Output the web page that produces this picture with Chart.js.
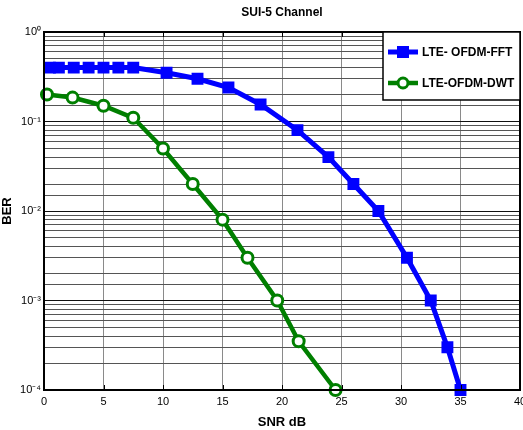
<!DOCTYPE html>
<html>
<head>
<meta charset="utf-8">
<script src="https://cdn.jsdelivr.net/npm/chart.js@4/dist/chart.umd.min.js"></script>
<style>
  html, body { margin: 0; padding: 0; background: #fff; }
  canvas { display: block; }
</style>
</head>
<body>
<canvas id="ber-chart" width="523" height="430"></canvas>
<script>
// --- Data ---
const fftSnr = [0.5, 1.25, 2.5, 3.75, 5, 6.25, 7.5, 10.3, 12.9, 15.5, 18.2, 21.3, 23.9, 26, 28.1, 30.5, 32.5, 33.9, 35];
const fftBer = [0.4, 0.4, 0.4, 0.4, 0.4, 0.4, 0.4, 0.35, 0.3, 0.24, 0.155, 0.08, 0.04, 0.02, 0.01, 0.003, 0.001, 0.0003, 0.0001];
const dwtSnr = [0.25, 2.4, 5, 7.5, 10, 12.5, 15, 17.1, 19.6, 21.4, 24.5];
const dwtBer = [0.2, 0.185, 0.15, 0.11, 0.05, 0.02, 0.008, 0.003, 0.001, 0.00035, 0.0001];
const seriesNames = ['LTE- OFDM-FFT', 'LTE-OFDM-DWT'];
const xTicks = [0, 5, 10, 15, 20, 25, 30, 35, 40];
const supers = { '-': '\u207B', '0': '\u2070', '1': '\u00B9', '2': '\u00B2', '3': '\u00B3', '4': '\u2074' };

const FONT = '"Liberation Sans", Arial, sans-serif';

function toPoints(xs, ys) {
    return xs.map((x, i) => ({ x: x, y: ys[i] }));
}

function isDecade(v) {
    const e = Math.log10(v);
    return Math.abs(e - Math.round(e)) < 1e-6;
}

// box round the plot, inner tick marks, title and the legend
const framePlugin = {
    id: 'frame',
    afterDraw(chart) {
        const ctx = chart.ctx;
        const a = chart.chartArea;
        const xs = chart.scales.x;
        ctx.save();

        // inner tick marks at top and bottom
        ctx.strokeStyle = '#000';
        ctx.lineWidth = 1;
        xTicks.forEach(v => {
            const px = Math.round(xs.getPixelForValue(v)) + 0.5;
            ctx.beginPath();
            ctx.moveTo(px, a.bottom); ctx.lineTo(px, a.bottom - 5);
            ctx.moveTo(px, a.top); ctx.lineTo(px, a.top + 5);
            ctx.stroke();
        });

        ctx.lineWidth = 2;
        ctx.strokeRect(a.left, a.top, a.right - a.left, a.bottom - a.top);

        // title centred over the plot
        ctx.fillStyle = '#000';
        ctx.font = 'bold 12px ' + FONT;
        ctx.textAlign = 'center';
        ctx.textBaseline = 'middle';
        ctx.fillText('SUI-5 Channel', (a.left + a.right) / 2, 13);

        // legend box in the top-right corner
        const bx = a.right - 137, by = a.top, bw = 137, bh = 68;
        ctx.fillStyle = '#fff';
        ctx.fillRect(bx, by, bw, bh);
        ctx.lineWidth = 1.5;
        ctx.strokeStyle = '#000';
        ctx.strokeRect(bx, by, bw, bh);

        chart.data.datasets.forEach((ds, i) => {
            const ry = by + 20 + i * 31;
            const x0 = bx + 5, x1 = bx + 35, cx = (x0 + x1) / 2;
            ctx.strokeStyle = ds.borderColor;
            ctx.lineWidth = ds.borderWidth;
            ctx.beginPath();
            ctx.moveTo(x0, ry); ctx.lineTo(x1, ry);
            ctx.stroke();
            if (ds.pointStyle === 'rect') {
                ctx.fillStyle = ds.borderColor;
                ctx.fillRect(cx - 6, ry - 6, 12, 12);
            } else {
                ctx.lineWidth = 3;
                ctx.fillStyle = '#fff';
                ctx.beginPath();
                ctx.arc(cx, ry, 5, 0, Math.PI * 2);
                ctx.fill();
                ctx.stroke();
            }
            ctx.fillStyle = '#000';
            ctx.font = 'bold 12px ' + FONT;
            ctx.textAlign = 'left';
            ctx.fillText(ds.label, x1 + 4, ry + 1);
        });
        ctx.restore();
    }
};

const chart = new Chart(document.getElementById('ber-chart'), {
    type: 'line',
    data: {
        datasets: [
            {
                label: seriesNames[0],
                data: toPoints(fftSnr, fftBer),
                borderColor: '#0000FF',
                backgroundColor: '#0000FF',
                borderWidth: 5,
                pointStyle: 'rect',
                pointRadius: 7,
                pointBorderWidth: 2,
                pointBackgroundColor: '#0000FF',
                pointBorderColor: '#0000FF',
                tension: 0,
                clip: false
            },
            {
                label: seriesNames[1],
                data: toPoints(dwtSnr, dwtBer),
                borderColor: '#007F00',
                backgroundColor: '#007F00',
                borderWidth: 4.5,
                pointStyle: 'circle',
                pointRadius: 5.5,
                pointBorderWidth: 3,
                pointBackgroundColor: '#ffffff',
                pointBorderColor: '#007F00',
                tension: 0,
                clip: false
            }
        ]
    },
    options: {
        responsive: false,
        animation: false,
        layout: { autoPadding: false, padding: { top: 32, right: 3, left: 0, bottom: 0 } },
        plugins: {
            legend: { display: false },
            title: { display: false },
            tooltip: { enabled: false }
        },
        scales: {
            x: {
                type: 'linear',
                min: 0,
                max: 40,
                afterFit(scale) {
                    scale.height = 40;
                    scale.paddingLeft = 0;
                    scale.paddingRight = 0;
                },
                ticks: {
                    stepSize: 5,
                    color: '#000',
                    padding: 5,
                    font: { family: FONT, size: 11 }
                },
                grid: { color: '#8a8a8a', lineWidth: 1, drawTicks: false },
                border: { display: false },
                title: {
                    display: true,
                    text: 'SNR dB',
                    color: '#000',
                    padding: { top: 0, bottom: 0 },
                    font: { family: FONT, size: 13, weight: 'bold' }
                }
            },
            y: {
                type: 'logarithmic',
                min: 0.0001,
                max: 1,
                afterFit(scale) {
                    scale.width = 44;
                    scale.paddingTop = 0;
                    scale.paddingBottom = 0;
                },
                ticks: {
                    autoSkip: false,
                    color: '#000',
                    padding: 3,
                    font: { family: FONT, size: 11 },
                    callback(v) {
                        if (!isDecade(v)) return '';
                        const e = String(Math.round(Math.log10(v)));
                        return '10' + e.split('').map(c => supers[c]).join('');
                    }
                },
                grid: {
                    drawTicks: false,
                    lineWidth: 1,
                    color: ctx => (ctx.tick && isDecade(ctx.tick.value)) ? '#111' : '#555'
                },
                border: { display: false },
                title: {
                    display: true,
                    text: 'BER',
                    color: '#000',
                    padding: { top: 0, bottom: 4 },
                    font: { family: FONT, size: 13, weight: 'bold' }
                }
            }
        }
    },
    plugins: [framePlugin]
});
</script>
</body>
</html>
